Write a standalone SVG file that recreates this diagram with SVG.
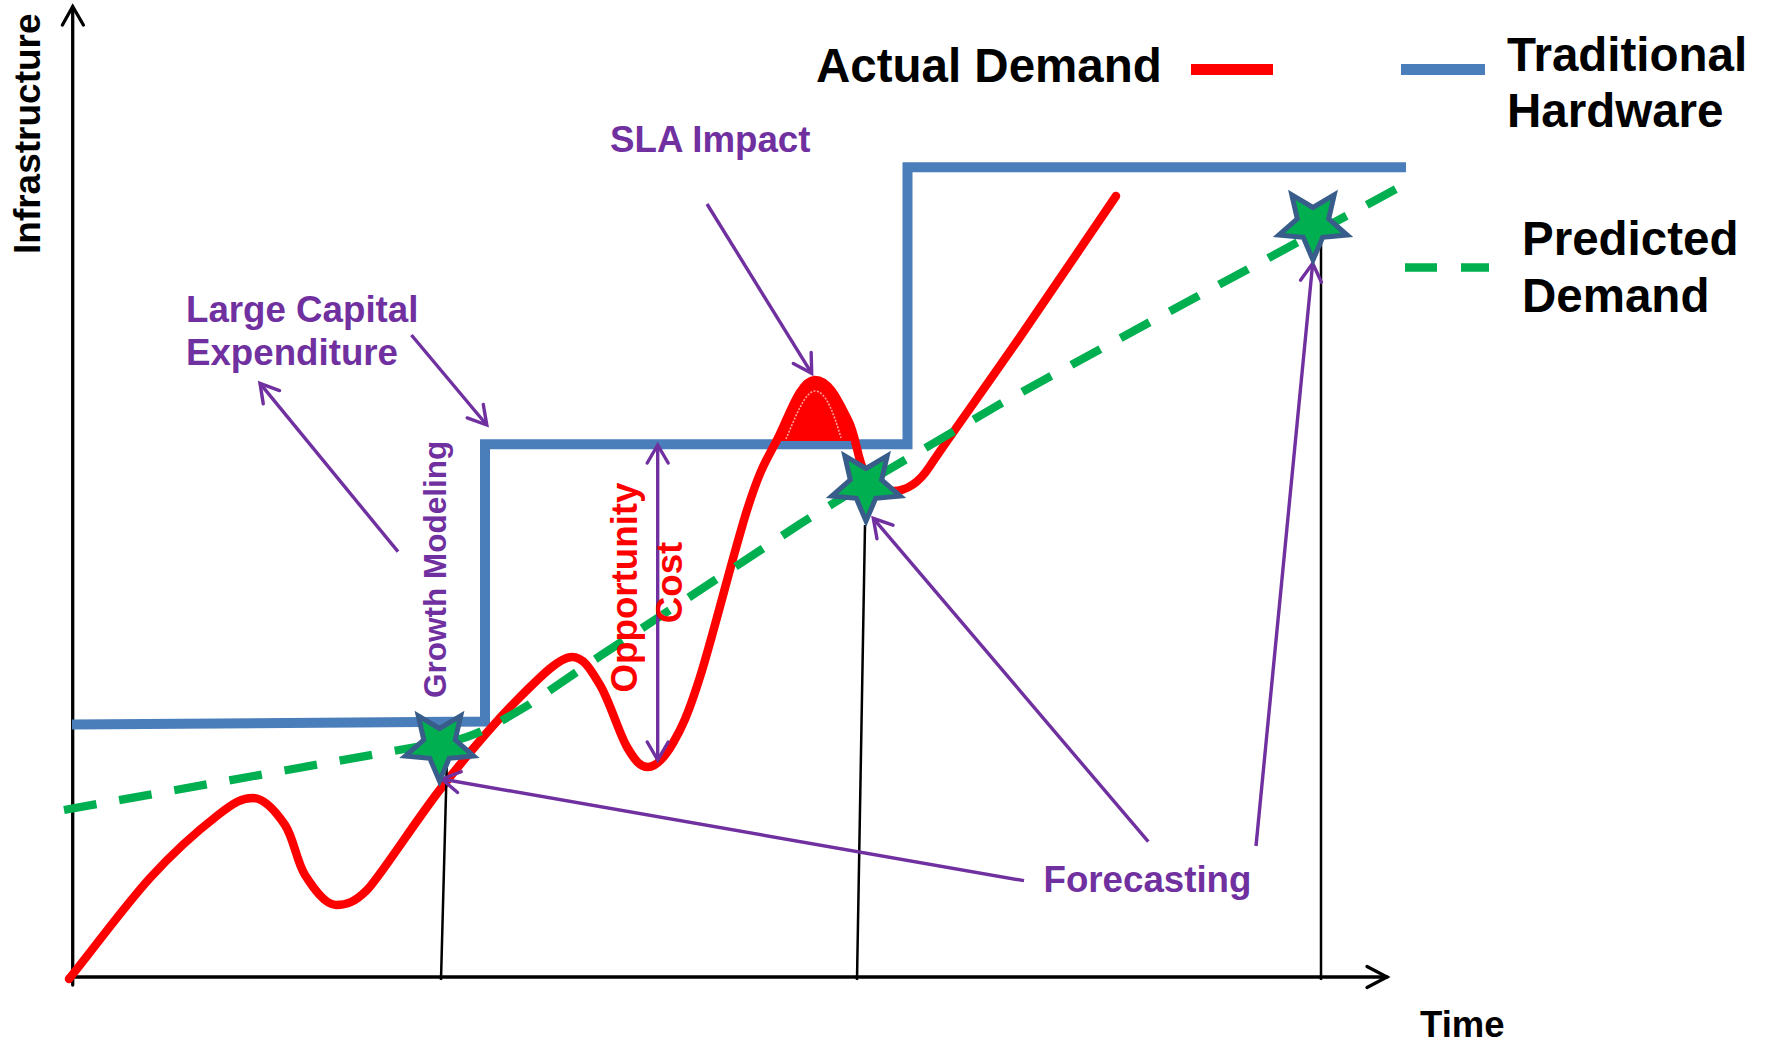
<svg xmlns="http://www.w3.org/2000/svg" width="1771" height="1042" viewBox="0 0 1771 1042">
<style>
  .t { font-family: "Liberation Sans", Arial, sans-serif; font-weight: bold; }
  .pu { fill: #7030A0; font-size: 36.7px; }
  .rd { fill: #FF0000; font-size: 36.7px; }
  .bk { fill: #000000; font-size: 47.5px; }
  .ax { stroke: #000; stroke-width: 3.3; fill: none; stroke-linecap: round; stroke-linejoin: miter; }
  .thin { stroke: #000; stroke-width: 2.5; fill: none; }
  .arr { stroke: #7030A0; stroke-width: 3.4; fill: none; marker-end: url(#ah); }
  .star { fill: #00B050; stroke: #385D8A; stroke-width: 5; stroke-linejoin: miter; stroke-miterlimit: 10; }
</style>
<defs>
  <marker id="ah" markerUnits="userSpaceOnUse" markerWidth="30" markerHeight="30" viewBox="-25 -15 30 30" refX="0" refY="0" orient="auto" overflow="visible">
    <path d="M-18,-10.5 L0,0 L-18,10.5" fill="none" stroke="#7030A0" stroke-width="3.4" stroke-linecap="round"/>
  </marker>
  <marker id="ah2" markerUnits="userSpaceOnUse" markerWidth="30" markerHeight="30" viewBox="-25 -15 30 30" refX="0" refY="0" orient="auto-start-reverse" overflow="visible">
    <path d="M-18,-10.5 L0,0 L-18,10.5" fill="none" stroke="#7030A0" stroke-width="3.4" stroke-linecap="round"/>
  </marker>
  <polygon id="starshape" points="0,36 -9.7,13.35 -34.2,11.1 -15.7,-5.1 -21.2,-29.1 0,-16.5 21.2,-29.1 15.7,-5.1 34.2,11.1 9.7,13.35"/>
</defs>
<rect width="1771" height="1042" fill="#FFFFFF"/>

<g id="axes">
  <path class="ax" d="M72.7,985 L72.7,7"/>
  <path class="ax" d="M62.4,25 L72.7,6.5 L83.4,25"/>
  <path class="ax" d="M68,977 L1387,977"/>
  <path class="ax" d="M1367,966.5 L1387,977 L1367,987.5"/>
  <text class="t" font-size="37" fill="#000" transform="translate(40.2,254) rotate(-90)">Infrastructure</text>
  <text class="t" font-size="36.5" fill="#000" x="1420" y="1037">Time</text>
</g>

<g id="traditional-hardware">
  <path d="M72,724.5 L485,721.5 L485,444.3 L907.5,444.3 L907.5,167.3 L1406,167.3" fill="none" stroke="#4A7EBA" stroke-width="10" stroke-linejoin="miter"/>
</g>

<g id="actual-demand">
  <path d="M777,441 C788.2,418.8 800,380 815,380 C830,380 839.7,404.5 848,420 C851,426 853,433 855,441 Z" fill="#FF0000"/>
  <path d="M69,979 C96,945.3 125.2,905.3 150,878 C174.8,850.7 200.8,828.3 218,815 C235.2,801.7 242,798 253,798 C264,798 276.3,812.2 285,825 C293.7,837.8 296.5,861.7 305,875 C313.5,888.3 325.2,905 336,905 C346.8,905 355,902 367,890 C379,878 417,818.7 442,787 C467,755.3 498.3,718.7 520,697 C541.7,675.3 560,657 572,657 C584,657 590.8,670 600,685 C609.2,700 619,733.3 627,747 C635,760.7 640.3,767 648,767 C655.7,767 664.3,758 673,743 C681.7,728 687.5,716.3 700,677 C712.5,637.7 735.2,546.5 748,507 C760.8,467.5 765.8,461.2 777,440 C788.2,418.8 800,380 815,380 C830,380 839.7,404.5 848,420 C856.3,435.5 857.5,461.2 865,473 C872.5,484.8 882.2,491 893,491 C903.8,491 917,486 930,466 C943,446 989,382 1020,337 C1051,292 1084,243 1116,196" fill="none" stroke="#FF0000" stroke-width="8.5" stroke-linecap="round" stroke-linejoin="round"/>
  <path d="M786,439 C795,418 805,391 815,391 C826,391 834,414 841,438" fill="none" stroke="#FFB8B8" stroke-width="1.6" stroke-dasharray="2 1.5" opacity="0.85"/>
</g>

<g id="predicted-demand">
  <path d="M64,810 L455,740 C475,736.4 495,725 530,704 L600,656 L700,590 L800,524 L866,483 L1000,404 L1150,322 L1300,241 L1407,183" fill="none" stroke="#00B050" stroke-width="8.3" stroke-dasharray="33 23"/>
</g>

<g id="connectors">
  <path class="thin" d="M447,756 L441,980"/>
  <path class="thin" d="M865,525 L857,980"/>
  <path class="thin" d="M1321,238 L1321,980"/>
  <path class="arr" d="M398,551.7 L260,383.3"/>
  <path class="arr" d="M411.4,335 L486.8,425"/>
  <path class="arr" d="M707,204 L811.7,373.3"/>
  <path d="M657.7,445 L657.7,760" fill="none" stroke="#7030A0" stroke-width="3.4" marker-start="url(#ah2)" marker-end="url(#ah2)"/>
  <path class="arr" d="M1024,880.7 L441.7,779"/>
  <path class="arr" d="M1148.3,841.7 L873.3,518.3"/>
  <path class="arr" d="M1256,846 L1312.7,263.3"/>
</g>

<g id="star-1"><use href="#starshape" class="star" x="439.5" y="745"/></g>
<g id="star-2"><use href="#starshape" class="star" x="866" y="485"/></g>
<g id="star-3"><use href="#starshape" class="star" x="1313" y="224"/></g>

<g id="label-large-capital">
  <text class="t pu" x="186" y="321.7">Large Capital</text>
  <text class="t pu" x="186" y="365">Expenditure</text>
</g>
<g id="label-sla-impact">
  <text class="t pu" x="610" y="151.7">SLA Impact</text>
</g>
<g id="label-growth-modeling">
  <text class="t" font-size="31.5" fill="#7030A0" transform="translate(446,698) rotate(-90)">Growth Modeling</text>
</g>
<g id="label-opportunity-cost">
  <text class="t rd" text-anchor="middle" transform="translate(636.5,587.5) rotate(-90)">Opportunity</text>
  <text class="t rd" text-anchor="middle" transform="translate(681.5,582.5) rotate(-90)">Cost</text>
</g>
<g id="label-forecasting">
  <text class="t pu" x="1043.5" y="891.7">Forecasting</text>
</g>

<g id="legend">
  <text class="t bk" x="816" y="81.7">Actual Demand</text>
  <rect x="1191" y="64" width="82" height="11" fill="#FF0000"/>
  <rect x="1401" y="64" width="84" height="11" fill="#4A7EBA"/>
  <text class="t bk" x="1507" y="70.7">Traditional</text>
  <text class="t bk" x="1507" y="126.7">Hardware</text>
  <path d="M1405,267.5 L1489,267.5" stroke="#00B050" stroke-width="8.3" stroke-dasharray="32 24"/>
  <text class="t bk" x="1522" y="255">Predicted</text>
  <text class="t bk" x="1522" y="312.3">Demand</text>
</g>
</svg>
